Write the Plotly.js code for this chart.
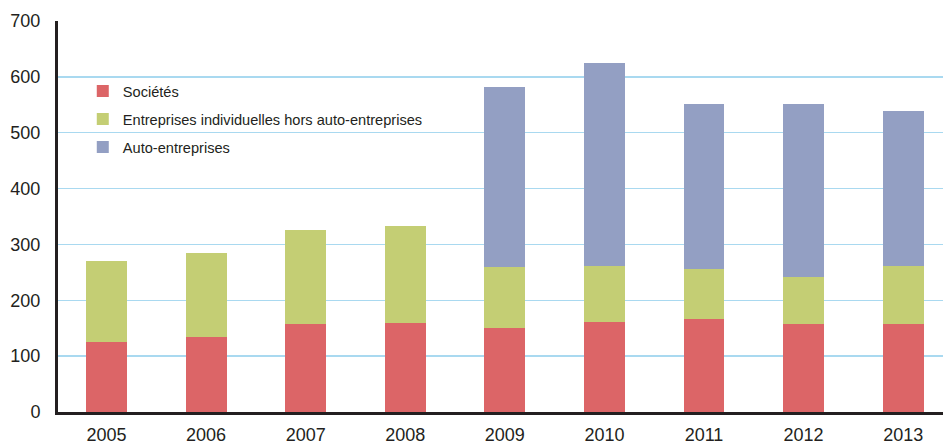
<!DOCTYPE html>
<html><head><meta charset="utf-8">
<script src="https://cdn.plot.ly/plotly-3.0.1.min.js"></script>
<style>html,body{margin:0;padding:0;background:#fff;}#chart{width:943px;height:446px;}</style>
</head><body><div id="chart"></div>
<script>
const years = ['2005','2006','2007','2008','2009','2010','2011','2012','2013'];
const societes = [125,135,158,160,151,162,166,157,157];
const entreprisesIndiv = [146,150,168,173,108,99,90,84,104];
const autoEntreprises = [0,0,0,0,322,363,295,310,278];
const seriesNames = ['Sociétés','Entreprises individuelles hors auto-entreprises','Auto-entreprises'];
const seriesColors = ['#DC6567','#C4CE74','#939FC3'];
const yTicks = [0,100,200,300,400,500,600,700];

const FONT = '"Liberation Sans", Arial, sans-serif';
const vals = [societes, entreprisesIndiv, autoEntreprises];
const traces = vals.map((v,i)=>({
  type:'bar', x: years, y: v, name: seriesNames[i], legendgroup: 'g'+i,
  marker:{color: seriesColors[i], line:{width:0}},
  hoverinfo:'x+y+name'
}));
const layout = {
  width:943, height:446,
  margin:{l:58, r:0, t:21, b:34, pad:0},
  paper_bgcolor:'#fff', plot_bgcolor:'#fff',
  barmode:'stack', bargap:0.59,
  font:{family:FONT, size:18, color:'#231f20'},
  xaxis:{type:'category', range:[-0.487,8.4], showgrid:false, zeroline:false,
    showline:true, linecolor:'#231f20', linewidth:3, ticks:'', ticklabelstandoff:4,
    tickfont:{family:FONT, size:18, color:'#231f20'}},
  yaxis:{range:[0,700], tickvals:yTicks, ticktext:yTicks.map(String), showgrid:true,
    gridcolor:'#A9D9F0', gridwidth:1.5, zeroline:false, showline:true,
    linecolor:'#231f20', linewidth:3, ticks:'', ticklabelstandoff:11,
    tickfont:{family:FONT, size:18, color:'#231f20'}},
  showlegend:true,
  legend:{x:0.028, y:0.862, xanchor:'left', yanchor:'top', bgcolor:'rgba(0,0,0,0)',
    traceorder:'normal+grouped', tracegroupgap:6,
    font:{family:FONT, size:14.6, color:'#231f20'}}
};
Plotly.newPlot('chart', traces, layout, {staticPlot:true, displayModeBar:false});
</script></body></html>
